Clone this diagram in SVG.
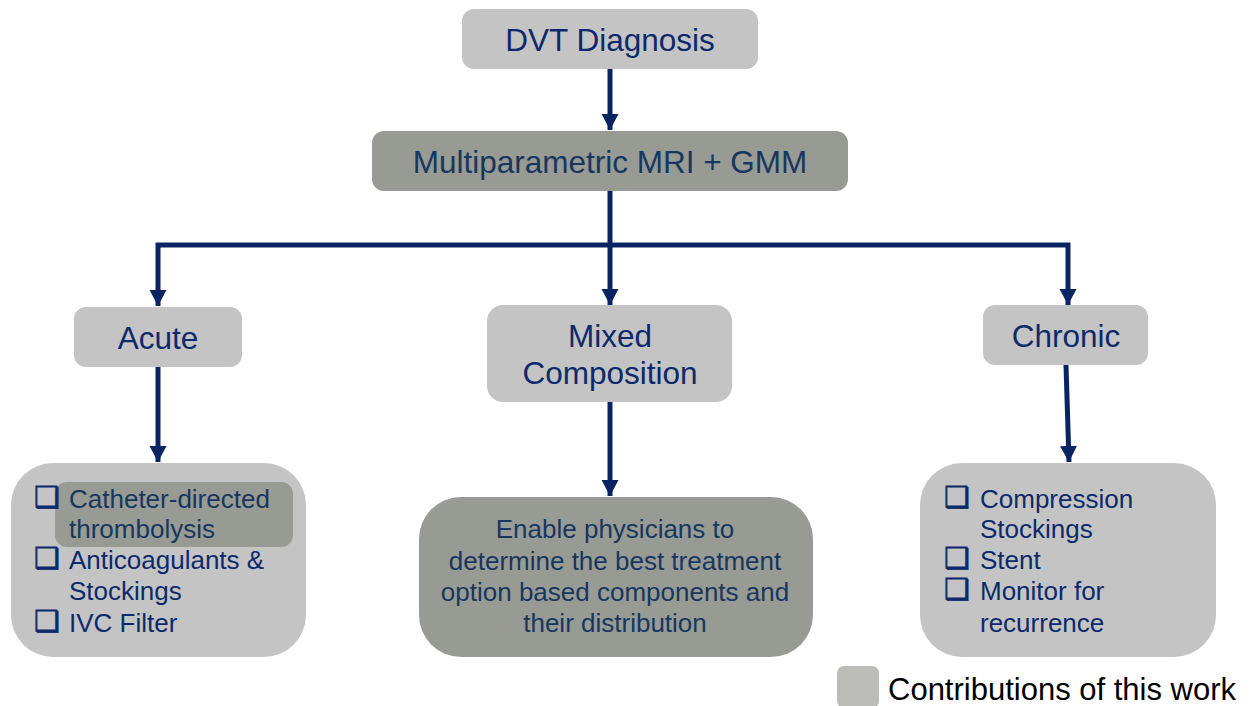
<svg xmlns="http://www.w3.org/2000/svg" width="1251" height="706" viewBox="0 0 1251 706">
<style>
.light{fill:#c4c4c4}
.dark{fill:#989a94}
.t{font-family:"Liberation Sans",Arial,sans-serif;fill:#0c2a6b}
.td{font-family:"Liberation Sans",Arial,sans-serif;fill:#17375e}
.title{font-size:31.5px;text-anchor:middle}
.item{font-size:26px}
.bul{font-family:"DejaVu Sans",sans-serif;font-size:29px;fill:#0c2a6b;stroke:#0c2a6b;stroke-width:0.7}
.conn{fill:none;stroke:#0a2463;stroke-width:5;stroke-linejoin:miter}
</style>
<defs>
<marker id="ah" markerUnits="userSpaceOnUse" markerWidth="18" markerHeight="18" refX="16" refY="8.5" orient="auto">
<path d="M0,0 L16,8.5 L0,17 z" fill="#0a2463"/>
</marker>
</defs>
<rect width="1251" height="706" fill="#ffffff"/>
<g id="connectors">
<path class="conn" d="M610,69 V130" marker-end="url(#ah)"/>
<path class="conn" d="M610,191 V245 H158 V306" marker-end="url(#ah)"/>
<path class="conn" d="M610,245 V305" marker-end="url(#ah)"/>
<path class="conn" d="M610,245 H1068 V305" marker-end="url(#ah)"/>
<path class="conn" d="M158,367 V462" marker-end="url(#ah)"/>
<path class="conn" d="M610,402 V496" marker-end="url(#ah)"/>
<path class="conn" d="M1066,365 L1069,462" marker-end="url(#ah)"/>
</g>
<g id="dvt">
<rect class="light" x="462" y="9" width="296" height="60" rx="12"/>
<text class="t title" x="610" y="51">DVT Diagnosis</text>
</g>
<g id="mri">
<rect class="dark" x="372" y="131" width="476" height="60" rx="12"/>
<text class="td title" x="610" y="173">Multiparametric MRI + GMM</text>
</g>
<g id="acute">
<rect class="light" x="74" y="307" width="168" height="60" rx="12"/>
<text class="t title" x="158" y="349">Acute</text>
</g>
<g id="mixed">
<rect class="light" x="487" y="305" width="245" height="97" rx="16"/>
<text class="t title" x="610" y="347">Mixed</text>
<text class="t title" x="610" y="384">Composition</text>
</g>
<g id="chronic">
<rect class="light" x="983" y="305" width="165" height="60" rx="12"/>
<text class="t title" x="1066" y="347">Chronic</text>
</g>
<g id="acute-treatment">
<rect class="light" x="11" y="463" width="295" height="194" rx="42"/>
<rect class="dark" x="55" y="482" width="238" height="65" rx="12"/>
<text class="bul" x="34" y="507">❑</text>
<text class="td item" x="69" y="508">Catheter-directed</text>
<text class="td item" x="69" y="538">thrombolysis</text>
<text class="bul" x="34" y="568">❑</text>
<text class="t item" x="69" y="569">Anticoagulants &amp;</text>
<text class="t item" x="69" y="600">Stockings</text>
<text class="bul" x="34" y="631">❑</text>
<text class="t item" x="69" y="632">IVC Filter</text>
</g>
<g id="mixed-treatment">
<rect class="dark" x="419" y="497" width="394" height="160" rx="42"/>
<g class="td" font-size="26" text-anchor="middle">
<text x="615" y="538">Enable physicians to</text>
<text x="615" y="570">determine the best treatment</text>
<text x="615" y="601">option based components and</text>
<text x="615" y="632">their distribution</text>
</g>
</g>
<g id="chronic-treatment">
<rect class="light" x="920" y="463" width="296" height="194" rx="42"/>
<text class="bul" x="944" y="507">❑</text>
<text class="t item" x="980" y="508">Compression</text>
<text class="t item" x="980" y="538">Stockings</text>
<text class="bul" x="944" y="568">❑</text>
<text class="t item" x="980" y="569">Stent</text>
<text class="bul" x="944" y="599">❑</text>
<text class="t item" x="980" y="600">Monitor for</text>
<text class="t item" x="980" y="632">recurrence</text>
</g>
<g id="legend">
<rect x="837" y="666" width="42" height="42" rx="7" fill="#bcbdb9"/>
<text x="888" y="700" font-family="Liberation Sans, Arial, sans-serif" font-size="31" fill="#000000">Contributions of this work</text>
</g>
</svg>
